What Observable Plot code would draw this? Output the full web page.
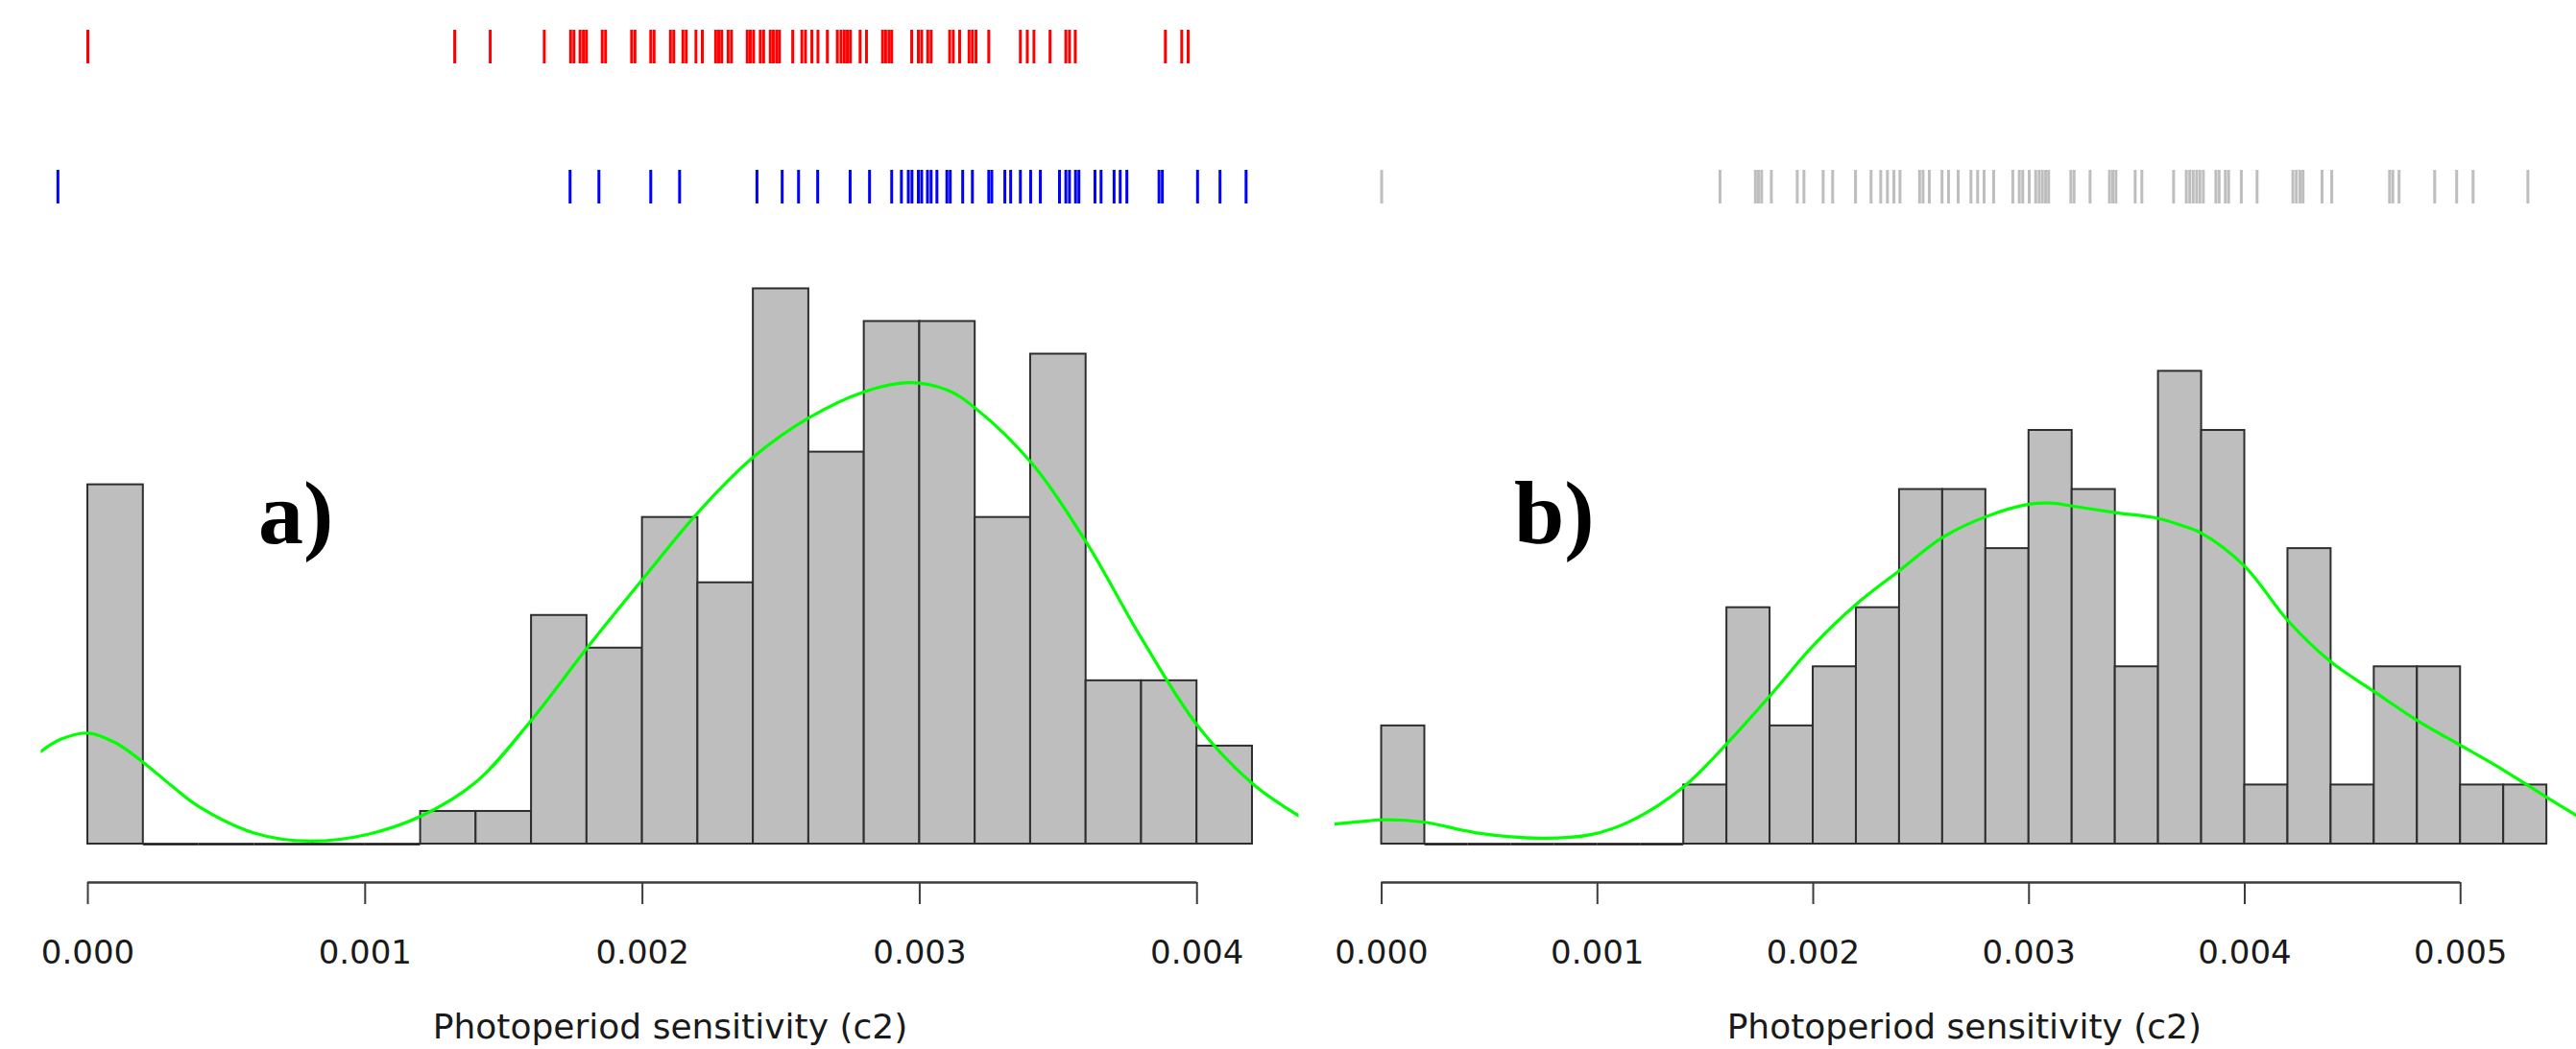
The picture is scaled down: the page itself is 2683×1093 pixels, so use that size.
<!DOCTYPE html>
<html>
<head>
<meta charset="utf-8">
<script src="https://cdn.jsdelivr.net/npm/d3@7"></script>
<script src="https://cdn.jsdelivr.net/npm/@observablehq/plot@0.6"></script>
<style>
html, body { margin: 0; padding: 0; background: #ffffff; overflow: hidden; }
#fig { position: relative; width: 2683px; height: 1093px; background: #ffffff; }
</style>
</head>
<body>
<div id="fig"></div>
<script>
// ---------- data ----------
const axisTitle = "Photoperiod sensitivity (c2)";

// panel a histogram
const breaksA = [0, 0.0002, 0.0004, 0.0006, 0.0008, 0.001, 0.0012, 0.0014, 0.0016, 0.0018, 0.002,
  0.0022, 0.0024, 0.0026, 0.0028, 0.003, 0.0032, 0.0034, 0.0036, 0.0038, 0.004, 0.0042];
const countsA = [11, 0, 0, 0, 0, 0, 1, 1, 7, 6, 10, 8, 17, 12, 16, 16, 10, 15, 5, 5, 3];
const ticksA = [0, 0.001, 0.002, 0.003, 0.004];

// panel a density curve (in count units)
const curveAx = [-0.00017, -0.0001, 0, 0.0001, 0.0002, 0.0003, 0.0004, 0.0006, 0.0008, 0.001, 0.0012,
  0.0014, 0.0016, 0.0018, 0.002, 0.0022, 0.0024, 0.0026, 0.0028, 0.00296, 0.0031, 0.0032, 0.0034,
  0.0036, 0.0038, 0.004, 0.0042, 0.00437];
const curveAy = [2.83, 3.2, 3.4, 3.1, 2.5, 1.8, 1.15, 0.34, 0.09, 0.28, 0.85,
  1.9, 3.8, 6.0, 8.1, 10.15, 11.85, 13.05, 13.85, 14.13, 13.9, 13.35, 11.7,
  9.25, 6.3, 3.65, 1.85, 0.85];

// panel b histogram
const breaksB = [0, 0.0002, 0.0004, 0.0006, 0.0008, 0.001, 0.0012, 0.0014, 0.0016, 0.0018, 0.002,
  0.0022, 0.0024, 0.0026, 0.0028, 0.003, 0.0032, 0.0034, 0.0036, 0.0038, 0.004, 0.0042, 0.0044,
  0.0046, 0.0048, 0.005, 0.0052, 0.0054];
const countsB = [2, 0, 0, 0, 0, 0, 0, 1, 4, 2, 3, 4, 6, 6, 5, 7, 6, 3, 8, 7, 1, 5, 1, 3, 3, 1, 1];
const ticksB = [0, 0.001, 0.002, 0.003, 0.004, 0.005];

// panel b density curve (in count units)
const curveBx = [-0.00022, -0.0001, 0, 0.0002, 0.00044, 0.00074, 0.00097, 0.00116, 0.0014, 0.0016,
  0.0018, 0.002, 0.0022, 0.0024, 0.0026, 0.0028, 0.003, 0.0031, 0.0032, 0.0034, 0.0036, 0.0037,
  0.0038, 0.004, 0.0042, 0.0044, 0.0046, 0.0048, 0.005, 0.0052, 0.0054, 0.00562];
const curveBy = [0.34, 0.38, 0.41, 0.37, 0.19, 0.10, 0.16, 0.40, 0.97, 1.70,
  2.51, 3.36, 4.06, 4.63, 5.19, 5.54, 5.75, 5.77, 5.72, 5.61, 5.51, 5.40,
  5.26, 4.70, 3.78, 3.08, 2.58, 2.09, 1.67, 1.25, 0.79, 0.30];

// rugs
const redRug = [0, 0.001323, 0.001451, 0.001646, 0.001741, 0.001753, 0.001775, 0.001787, 0.001798,
  0.001855, 0.001867, 0.001961, 0.001973, 0.002030, 0.002042, 0.002101, 0.002113, 0.002146, 0.002158,
  0.002193, 0.002216, 0.002264, 0.002275, 0.002286, 0.002309, 0.002321, 0.002378, 0.002389, 0.002401,
  0.002425, 0.002437, 0.002461, 0.002472, 0.002484, 0.002494, 0.002542, 0.002575, 0.002588, 0.002611,
  0.002633, 0.002667, 0.002703, 0.002716, 0.002728, 0.002739, 0.002750, 0.002785, 0.002808, 0.002866,
  0.002877, 0.002889, 0.002899, 0.002971, 0.002995, 0.003007, 0.003029, 0.003041, 0.003108, 0.003121,
  0.003144, 0.003178, 0.003190, 0.003203, 0.003249, 0.003363, 0.003388, 0.003412, 0.003470, 0.003527,
  0.003540, 0.003561, 0.003886, 0.003945, 0.003968];
const blueRug = [-0.000108, 0.001739, 0.001843, 0.002030, 0.002134, 0.002413, 0.002504, 0.002563,
  0.002632, 0.002749, 0.002819, 0.002899, 0.002934, 0.002959, 0.002972, 0.002995, 0.003007, 0.003028,
  0.003041, 0.003062, 0.003098, 0.003110, 0.003155, 0.003190, 0.003249, 0.003260, 0.003307, 0.003328,
  0.003363, 0.003400, 0.003435, 0.003504, 0.003527, 0.003540, 0.003562, 0.003574, 0.003632, 0.003654,
  0.003701, 0.003723, 0.003747, 0.003863, 0.003875, 0.004002, 0.004083, 0.004177];
const greyRug = [0, 0.001568, 0.001732, 0.001746, 0.001761, 0.001806, 0.001926, 0.001957, 0.002046,
  0.002090, 0.002196, 0.002268, 0.002313, 0.002344, 0.002374, 0.002402, 0.002493, 0.002509, 0.002538,
  0.002597, 0.002627, 0.002672, 0.002731, 0.002762, 0.002792, 0.002836, 0.002925, 0.002955, 0.002971,
  0.003001, 0.003031, 0.003047, 0.003062, 0.003077, 0.003091, 0.003194, 0.003209, 0.003283, 0.003373,
  0.003388, 0.003403, 0.003492, 0.003523, 0.003670, 0.003729, 0.003745, 0.003761, 0.003777, 0.003792,
  0.003808, 0.003866, 0.003881, 0.003910, 0.003925, 0.003984, 0.004057, 0.004223, 0.004239, 0.004256,
  0.004270, 0.004358, 0.004403, 0.004671, 0.004686, 0.004715, 0.004880, 0.004982, 0.005058, 0.005312];
const rugRows = ["upper", "lower"];

// panel annotations
const panelLabels = ["a)", "b)"];
const panelLabelX = [0.00075, 0.0008];
const panelLabelY = [10.1, 5.58];

// ---------- layout ----------
const panels = [
  {
    breaks: breaksA, counts: countsA, ticks: ticksA, cx: curveAx, cy: curveAy,
    label: panelLabels[0], labelX: panelLabelX[0], labelY: panelLabelY[0],
    rugs: [{values: redRug, row: "upper", color: "#ff0000"}, {values: blueRug, row: "lower", color: "#0000ff"}],
    left: 0, width: 1360, marginLeft: 42.5, marginRight: 7.5,
    xDomain: [-0.000168, 0.004368], yMax: 19.07
  },
  {
    breaks: breaksB, counts: countsB, ticks: ticksB, cx: curveBx, cy: curveBy,
    label: panelLabels[1], labelX: panelLabelX[1], labelY: panelLabelY[1],
    rugs: [{values: greyRug, row: "lower", color: "#bebebe"}],
    left: 1340, width: 1343, marginLeft: 50, marginRight: -17.7,
    xDomain: [-0.000216, 0.005616], yMax: 10.54
  }
];

const fig = document.getElementById("fig");
const baseStyle = {background: "transparent", overflow: "visible", fontFamily: "DejaVu Sans", color: "#1a1a1a"};

function place(el, left, top) {
  el.style.position = "absolute";
  el.style.left = left + "px";
  el.style.top = top + "px";
  el.style.maxWidth = "none";
  fig.appendChild(el);
}

for (const p of panels) {
  const bins = p.counts.map((c, i) => ({x0: p.breaks[i], x1: p.breaks[i + 1], count: c}));
  const curve = p.cx.map((x, i) => ({x, y: p.cy[i]}));

  // rug strips
  const rug = Plot.plot({
    width: p.width, height: 230,
    marginLeft: p.marginLeft, marginRight: p.marginRight, marginTop: 31, marginBottom: 18,
    x: {domain: p.xDomain, axis: null},
    y: {type: "band", domain: rugRows, paddingInner: 0.76, paddingOuter: 0, round: false, axis: null},
    style: baseStyle,
    marks: p.rugs.map(r => Plot.tickX(r.values, {x: d => d, y: () => r.row, stroke: r.color, strokeWidth: 3}))
  });
  place(rug, p.left, 0);

  // histogram + density
  const hist = Plot.plot({
    width: p.width, height: 863,
    marginLeft: p.marginLeft, marginRight: p.marginRight, marginTop: 0, marginBottom: 214,
    x: {domain: p.xDomain},
    y: {domain: [0, p.yMax], axis: null},
    style: baseStyle,
    marks: [
      Plot.ruleY(bins.filter(d => d.count === 0), {x1: "x0", x2: "x1", y: "count", stroke: "#111111", strokeWidth: 2.5}),
      Plot.rectY(bins.filter(d => d.count > 0), {x1: "x0", x2: "x1", y: "count", fill: "#bebebe", stroke: "#2e2e2e", strokeWidth: 2}),
      Plot.line(curve, {x: "x", y: "y", stroke: "#00ff00", strokeWidth: 3.2, curve: "catmull-rom", clip: true}),
      Plot.text([p.label], {x: p.labelX, y: p.labelY, text: d => d, fontFamily: "Liberation Serif", fontWeight: "bold", fontSize: 94, fill: "#000000"}),
      Plot.ruleY([0], {x1: p.ticks[0], x2: p.ticks[p.ticks.length - 1], dy: 40, stroke: "#3c3c3c", strokeWidth: 2.5}),
      Plot.axisX({ticks: p.ticks, tickFormat: d3.format(".3f"), tickSize: 23, tickPadding: 37, dy: 40,
        fontSize: 34, fontFamily: "DejaVu Sans", stroke: "#3c3c3c", fill: "#1a1a1a", strokeWidth: 2, label: null}),
      Plot.text([axisTitle], {frameAnchor: "bottom", dy: 202, text: d => d, fontSize: 36, fontFamily: "DejaVu Sans", fill: "#1a1a1a"})
    ]
  });
  place(hist, p.left, 230);
}
</script>
</body>
</html>
